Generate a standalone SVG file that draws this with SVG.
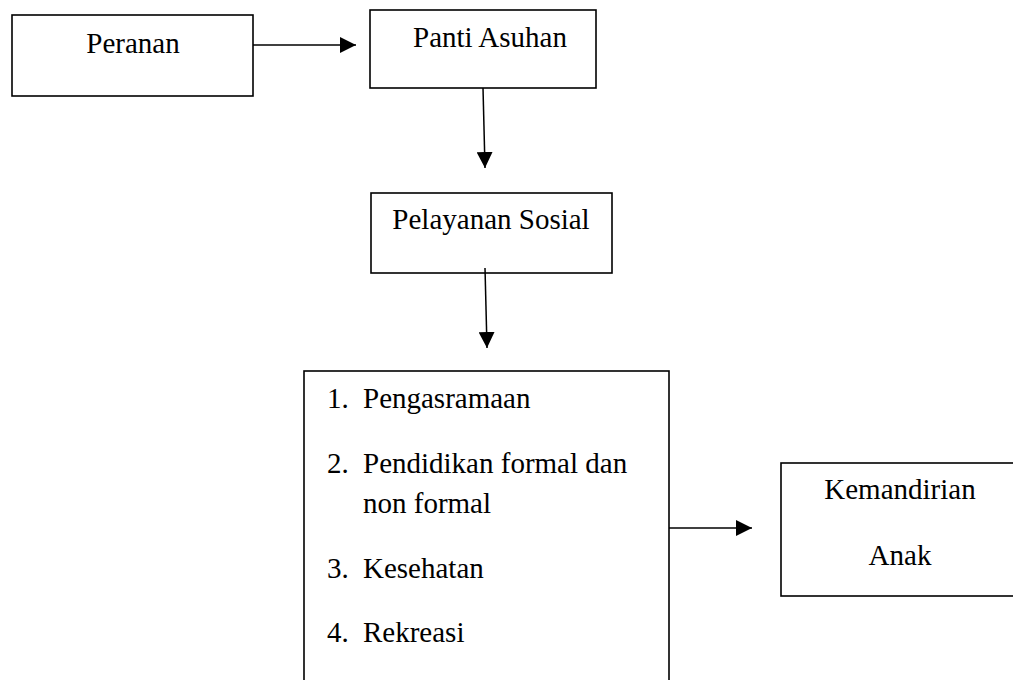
<svg xmlns="http://www.w3.org/2000/svg" width="1013" height="680" viewBox="0 0 1013 680">
<defs>
<style>
.box{fill:#fff;stroke:#000;stroke-width:1.6}
.t{font-family:"Liberation Serif","Times New Roman",serif;font-size:29px;fill:#000}
.c{text-anchor:middle}
.ln{stroke:#000;stroke-width:1.5;fill:none}
</style>
<marker id="ah" viewBox="0 0 16 16" refX="16" refY="8" markerWidth="16" markerHeight="16" markerUnits="userSpaceOnUse" orient="auto">
<path d="M0,0 L16,8 L0,16 Z" fill="#000"/>
</marker>
</defs>
<rect width="1013" height="680" fill="#fff"/>
<g id="peranan">
<rect class="box" x="12" y="15" width="241" height="81"/>
<text class="t c" x="133" y="53">Peranan</text>
</g>
<g id="panti-asuhan">
<rect class="box" x="370" y="10" width="226" height="78"/>
<text class="t c" x="490" y="47">Panti Asuhan</text>
</g>
<g id="pelayanan-sosial">
<rect class="box" x="371" y="193" width="241" height="80"/>
<text class="t c" x="491" y="229">Pelayanan Sosial</text>
</g>
<g id="layanan-list">
<rect class="box" x="304" y="371" width="365" height="330"/>
<text class="t" x="327" y="408">1.</text>
<text class="t" x="363" y="408">Pengasramaan</text>
<text class="t" x="327" y="473">2.</text>
<text class="t" x="363" y="473">Pendidikan formal dan</text>
<text class="t" x="363" y="513">non formal</text>
<text class="t" x="327" y="578">3.</text>
<text class="t" x="363" y="578">Kesehatan</text>
<text class="t" x="327" y="642">4.</text>
<text class="t" x="363" y="642">Rekreasi</text>
</g>
<g id="kemandirian-anak">
<rect class="box" x="781" y="463" width="240" height="133"/>
<text class="t c" x="900" y="499">Kemandirian</text>
<text class="t c" x="900" y="565">Anak</text>
</g>
<g id="connectors">
<line class="ln" x1="253" y1="45" x2="356" y2="45" marker-end="url(#ah)"/>
<line class="ln" x1="483" y1="88" x2="485" y2="168" marker-end="url(#ah)"/>
<line class="ln" x1="485" y1="268" x2="487" y2="348" marker-end="url(#ah)"/>
<line class="ln" x1="669" y1="528" x2="752" y2="528" marker-end="url(#ah)"/>
</g>
</svg>
